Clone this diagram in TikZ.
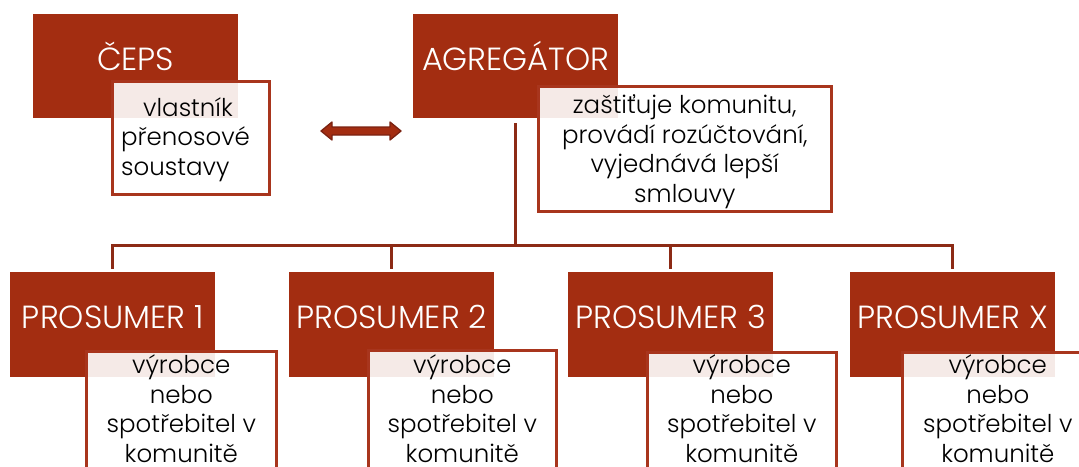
\documentclass[tikz,border=0pt]{standalone}
\usepackage{fontspec}
\setmainfont{Poppins}[UprightFont=* Light]
\usetikzlibrary{calc}
\definecolor{boxred}{HTML}{A32D11}
\definecolor{linered}{HTML}{8C2A15}
\definecolor{edgered}{HTML}{A8351D}
\definecolor{arrowedge}{HTML}{7B2211}
\tikzset{
  titlebox/.style={fill=boxred, draw=none, text=white, inner sep=0pt,
    minimum width=205pt, minimum height=104pt, anchor=north west,
    text height=22pt, text depth=14pt, font=\fontsize{32}{36}\selectfont},
  descbox/.style={fill=white, fill opacity=0.9, draw=edgered, draw opacity=1,
    line width=2.6pt, inner sep=0pt, anchor=north west},
  desctext/.style={text=black, inner sep=0pt, font=\fontsize{24.5}{29.5}\selectfont},
  conn/.style={draw=linered, line width=3pt},
}
\begin{document}
\begin{tikzpicture}[x=1pt,y=-1pt]
\useasboundingbox (0,0) rectangle (1079,466);
% title boxes
\node[titlebox] (ceps) at (33,14) {ČEPS};
\node[titlebox] (agg) at (413,14) {AGREGÁTOR};
\node[titlebox, minimum height=105pt] (p1) at (10,272) {PROSUMER 1};
\node[titlebox, minimum height=105pt] (p2) at (289,272) {PROSUMER 2};
\node[titlebox, minimum height=105pt] (p3) at (568,272) {PROSUMER 3};
\node[titlebox, minimum height=105pt] (px) at (850,272) {PROSUMER X};
% description boxes
\node[descbox, minimum width=157pt, minimum height=113pt] (cepsd) at (111,80) {};
\node[descbox, minimum width=293pt, minimum height=125pt] (aggd) at (537,85) {};
\node[descbox, minimum width=190pt, minimum height=150pt] (p1d) at (85,350) {};
\node[descbox, minimum width=188pt, minimum height=150pt] (p2d) at (367,349) {};
\node[descbox, minimum width=189pt, minimum height=150pt] (p3d) at (646,351) {};
\node[descbox, minimum width=191pt, minimum height=150pt] (pxd) at (901,351) {};
% description texts (anchor = baseline of the last line)
\node[desctext, align=left, anchor=base west] (cepst) at (121,175) {\hspace*{22pt}vlastník\\přenosové\\soustavy};
\node[desctext, align=center, anchor=base] (aggt) at (aggd.north |- 0,202) {zaštiťuje komunitu,\\provádí rozúčtování,\\vyjednává lepší\\smlouvy};
\node[desctext, align=center, anchor=base] (p1t) at (p1d.north |- 0,462) {výrobce\\nebo\\spotřebitel v\\komunitě};
\node[desctext, align=center, anchor=base] (p2t) at (p2d.north |- 0,462) {výrobce\\nebo\\spotřebitel v\\komunitě};
\node[desctext, align=center, anchor=base] (p3t) at (p3d.north |- 0,462) {výrobce\\nebo\\spotřebitel v\\komunitě};
\node[desctext, align=center, anchor=base] (pxt) at (pxd.north |- 0,462) {výrobce\\nebo\\spotřebitel v\\komunitě};
% connectors
\coordinate (bus) at (516,245);
\draw[conn] ([yshift=-5pt]agg.south) -- (agg.south |- bus);
\draw[conn, line cap=rect] (p1.north |- bus) -- (px.north |- bus);
\foreach \p in {p1,p2,p3,px}{
  \draw[conn] (\p.north |- bus) -- ([yshift=3pt]\p.north);
}
% double arrow between CEPS and AGREGATOR
\coordinate (al) at (321,131);
\coordinate (ar) at (401,131);
\fill[boxred, draw=arrowedge, line width=1.3pt, line join=round]
  (al) -- ++(11,-9) -- ++(0,5) -- ++(58,0) -- ++(0,-5) -- (ar)
  -- ++(-11,9) -- ++(0,-5) -- ++(-58,0) -- ++(0,5) -- cycle;
\end{tikzpicture}
\end{document}
